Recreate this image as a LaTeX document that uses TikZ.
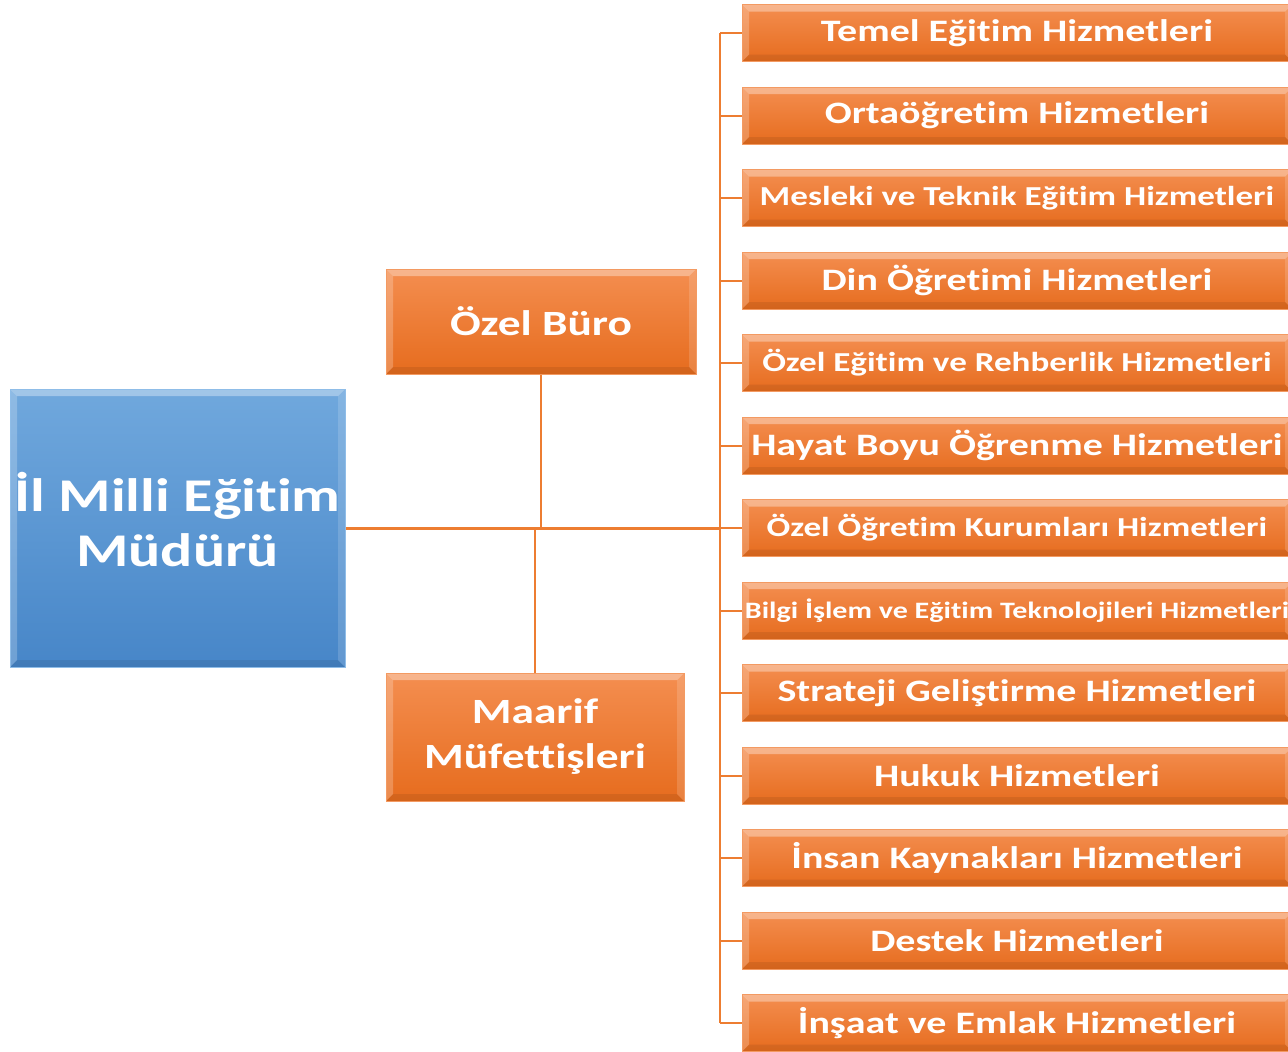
\documentclass[tikz,border=0pt]{standalone}
\usepackage{fontspec}
\setmainfont{Carlito}[FakeStretch=1.28,Ligatures=NoCommon]
\begin{document}
\begin{tikzpicture}[x=1pt,y=-1pt,
  line/.style={draw=conn,line width=2pt},
  mainline/.style={draw=conn,line width=3pt},
  bevel/.style={path picture={
    \fill[white,opacity=0.35] (path picture bounding box.north west) -- (path picture bounding box.north east)
      -- ([shift={(-7,7)}]path picture bounding box.north east) -- ([shift={(7,7)}]path picture bounding box.north west) -- cycle;
    \fill[white,opacity=0.22] (path picture bounding box.north west) -- ([shift={(7,7)}]path picture bounding box.north west)
      -- ([shift={(7,-7)}]path picture bounding box.south west) -- (path picture bounding box.south west) -- cycle;
    \fill[white,opacity=0.15] (path picture bounding box.north east) -- ([shift={(-7,7)}]path picture bounding box.north east)
      -- ([shift={(-7,-7)}]path picture bounding box.south east) -- (path picture bounding box.south east) -- cycle;
    \fill[black,opacity=0.08] (path picture bounding box.south west) -- ([shift={(7,-7)}]path picture bounding box.south west)
      -- ([shift={(-7,-7)}]path picture bounding box.south east) -- (path picture bounding box.south east) -- cycle;
  }},
  obox/.style={rectangle,inner sep=0pt,top color=otop,bottom color=obot,draw=oedge,line width=1pt,
    text=white,align=center,bevel},
  bbox/.style={rectangle,inner sep=0pt,top color=btop,bottom color=bbot,draw=bedge,line width=1pt,
    text=white,align=center,bevel},
  rbox/.style={obox,minimum width=550pt,minimum height=57pt},
  fa/.style={font=\bfseries\fontsize{#1}{#1}\selectfont},
  fb/.style 2 args={font=\bfseries\fontsize{#1}{#2}\selectfont}
]
\definecolor{conn}{HTML}{ED7D31}
\definecolor{otop}{HTML}{F48E50}
\definecolor{obot}{HTML}{E66C1E}
\definecolor{oedge}{HTML}{F39A62}
\definecolor{btop}{HTML}{70A8DD}
\definecolor{bbot}{HTML}{4786C8}
\definecolor{bedge}{HTML}{8FBDE8}
\clip (0,0) rectangle (1288,1052);
\fill[white] (0,0) rectangle (1288,1052);

% main boxes
\node[bbox,minimum width=335pt,minimum height=278pt,fb={46.9}{55}] (mud) at (177.5,528) {\raisebox{5pt}{\begin{tabular}{@{}c@{}}İl Milli Eğitim\\Müdürü\end{tabular}}};
\node[obox,minimum width=310pt,minimum height=105pt,fa=35.5] (ozel) at (541,321.5) {Özel Büro};
\node[obox,minimum width=298pt,minimum height=128pt,fb={35.5}{45}] (maarif) at (535,737) {Maarif\\Müfettişleri};

% right boxes
\node[rbox,fa=31.2] (r1) at (1017,33) {Temel Eğitim Hizmetleri};
\node[rbox,fa=31.2] (r2) at (1017,115.5) {Ortaöğretim Hizmetleri};
\node[rbox,fa=27.4] (r3) at (1017,198) {Mesleki ve Teknik Eğitim Hizmetleri};
\node[rbox,fa=31.2] (r4) at (1017,280.5) {Din Öğretimi Hizmetleri};
\node[rbox,fa=27.4] (r5) at (1017,363) {Özel Eğitim ve Rehberlik Hizmetleri};
\node[rbox,fa=31.2] (r6) at (1017,445.5) {Hayat Boyu Öğrenme Hizmetleri};
\node[rbox,fa=27.4] (r7) at (1017,528) {Özel Öğretim Kurumları Hizmetleri};
\node[rbox,fa=23.5] (r8) at (1017,610.5) {Bilgi İşlem ve Eğitim Teknolojileri Hizmetleri};
\node[rbox,fa=31.2] (r9) at (1017,693) {Strateji Geliştirme Hizmetleri};
\node[rbox,fa=31.2] (r10) at (1017,775.5) {Hukuk Hizmetleri};
\node[rbox,fa=31.2] (r11) at (1017,858) {İnsan Kaynakları Hizmetleri};
\node[rbox,fa=31.2] (r12) at (1017,940.5) {Destek Hizmetleri};
\node[rbox,fa=31.2] (r13) at (1017,1023) {İnşaat ve Emlak Hizmetleri};

% connectors
\coordinate (bus) at (720,528);
\coordinate (jn) at (539,528);
\draw[mainline] (mud.east) -- (bus);
\draw[line] (ozel.south) -- (ozel.south |- jn);
\draw[line] (maarif.north) -- (maarif.north |- jn);
\draw[line] (r1.west -| bus) -- (r13.west -| bus);
\foreach \i in {1,...,13} {
  \draw[line] (r\i.west -| bus) -- (r\i.west);
}
\end{tikzpicture}
\end{document}
